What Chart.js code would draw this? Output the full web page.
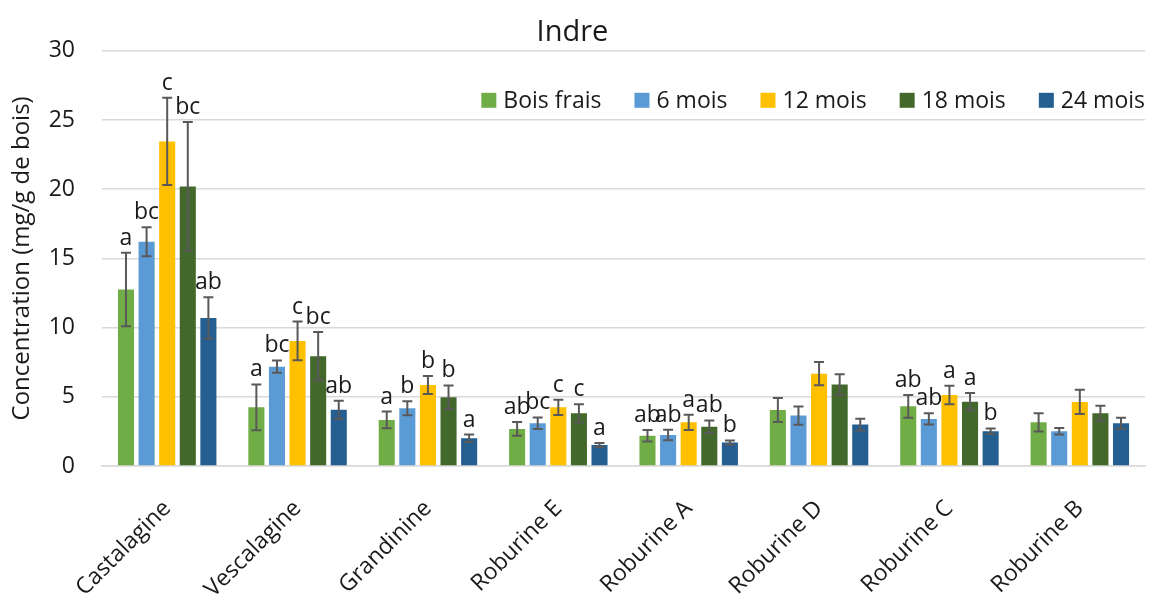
<!DOCTYPE html>
<html>
<head>
<meta charset="utf-8">
<title>Indre</title>
<script src="https://cdn.jsdelivr.net/npm/chart.js@4.4.1/dist/chart.umd.min.js"></script>
<style>
  body { margin: 0; background: #fff; }
  #wrap { width: 1153px; height: 594px; }
</style>
</head>
<body>
<div id="wrap"><canvas id="indreChart"></canvas></div>
<script>
'use strict';

// categories and series
var categories = ['Castalagine', 'Vescalagine', 'Grandinine', 'Roburine E', 'Roburine A', 'Roburine D', 'Roburine C', 'Roburine B'];
var seriesNames = ['Bois frais', '6 mois', '12 mois', '18 mois', '24 mois'];
var seriesColors = ['#70AD47', '#5B9BD5', '#FFC000', '#43682B', '#255E91'];

// mean concentrations (mg/g de bois)
var boisFrais = [12.75, 4.24, 3.33, 2.68, 2.19, 4.05, 4.31, 3.16];
var mois6     = [16.2, 7.18, 4.17, 3.09, 2.24, 3.64, 3.40, 2.51];
var mois12    = [23.45, 9.04, 5.86, 4.24, 3.16, 6.67, 5.13, 4.63];
var mois18    = [20.2, 7.93, 4.97, 3.81, 2.84, 5.88, 4.65, 3.81];
var mois24    = [10.7, 4.07, 2.0, 1.52, 1.69, 2.99, 2.51, 3.09];

// error bar half-widths
var errBoisFrais = [2.65, 1.65, 0.6, 0.5, 0.42, 0.87, 0.82, 0.66];
var errMois6     = [1.05, 0.45, 0.5, 0.42, 0.38, 0.66, 0.41, 0.23];
var errMois12    = [3.15, 1.4, 0.65, 0.55, 0.55, 0.84, 0.66, 0.88];
var errMois18    = [4.65, 1.75, 0.85, 0.66, 0.45, 0.75, 0.62, 0.54];
var errMois24    = [1.5, 0.65, 0.27, 0.15, 0.16, 0.42, 0.2, 0.4];

// significance letters
var lettersBoisFrais = ['a', 'a', 'a', 'ab', 'ab', '', 'ab', ''];
var lettersMois6     = ['bc', 'bc', 'b', 'bc', 'ab', '', 'ab', ''];
var lettersMois12    = ['c', 'c', 'b', 'c', 'a', '', 'a', ''];
var lettersMois18    = ['bc', 'bc', 'b', 'c', 'ab', '', 'a', ''];
var lettersMois24    = ['ab', 'ab', 'a', 'a', 'b', '', 'b', ''];

var yTicks = [0, 5, 10, 15, 20, 25, 30];

var values = [boisFrais, mois6, mois12, mois18, mois24];
var errors = [errBoisFrais, errMois6, errMois12, errMois18, errMois24];
var letters = [lettersBoisFrais, lettersMois6, lettersMois12, lettersMois18, lettersMois24];

var FONT = '"Open Sans", sans-serif';
var TEXT = '#1a1a1a';

Chart.defaults.font.family = FONT;
Chart.defaults.color = TEXT;

// error bars, letters, and an Excel-like legend sitting inside the plot
var errorBarsPlugin = {
  id: 'errorBars',
  afterDatasetsDraw: function (chart) {
    var ctx = chart.ctx;
    var y = chart.scales.y;
    ctx.save();
    chart.data.datasets.forEach(function (ds, i) {
      var meta = chart.getDatasetMeta(i);
      meta.data.forEach(function (bar, j) {
        var v = ds.data[j], e = ds.errors[j];
        var top = y.getPixelForValue(v + e);
        var bot = y.getPixelForValue(v - e);
        ctx.strokeStyle = '#595959';
        ctx.lineWidth = 2;
        ctx.beginPath();
        ctx.moveTo(bar.x, top); ctx.lineTo(bar.x, bot);
        ctx.moveTo(bar.x - 5, top); ctx.lineTo(bar.x + 5, top);
        ctx.moveTo(bar.x - 5, bot); ctx.lineTo(bar.x + 5, bot);
        ctx.stroke();
        if (ds.letters[j]) {
          ctx.fillStyle = TEXT;
          ctx.font = '23px ' + FONT;
          ctx.textAlign = 'center';
          ctx.textBaseline = 'alphabetic';
          ctx.fillText(ds.letters[j], bar.x, top - 8);
        }
      });
    });

    // legend
    var area = chart.chartArea;
    var box = 15, gap = 7, pad = 33;
    ctx.font = '23px ' + FONT;
    var widths = chart.data.datasets.map(function (ds) { return ctx.measureText(ds.label).width; });
    var total = widths.reduce(function (a, w) { return a + box + gap + w; }, 0) + pad * (widths.length - 1);
    var x = area.right - total;
    var cy = area.top + 49.5;
    ctx.textAlign = 'left';
    ctx.textBaseline = 'middle';
    chart.data.datasets.forEach(function (ds, i) {
      ctx.fillStyle = ds.backgroundColor;
      ctx.fillRect(x, cy - box / 2, box, box);
      ctx.fillStyle = TEXT;
      ctx.fillText(ds.label, x + box + gap, cy + 1);
      x += box + gap + widths[i] + pad;
    });
    ctx.restore();
  }
};

var datasets = seriesNames.map(function (name, i) {
  return {
    label: name,
    data: values[i],
    errors: errors[i],
    letters: letters[i],
    backgroundColor: seriesColors[i],
    borderWidth: 0,
    barPercentage: 0.78,
    categoryPercentage: 0.79
  };
});

new Chart(document.getElementById('indreChart').getContext('2d'), {
  type: 'bar',
  data: { labels: categories, datasets: datasets },
  options: {
    responsive: true,
    maintainAspectRatio: false,
    animation: false,
    layout: { padding: { left: 0, right: 8, top: 0, bottom: 0 } },
    plugins: {
      title: {
        display: true,
        text: 'Indre',
        color: TEXT,
        font: { size: 29, weight: 'normal' },
        padding: { top: 15, bottom: 1 }
      },
      legend: { display: false },
      tooltip: { enabled: false }
    },
    scales: {
      x: {
        grid: { display: false },
        border: { color: '#d9d9d9', width: 1.5 },
        ticks: { minRotation: 45, maxRotation: 45, padding: 21, color: TEXT, font: { size: 23 } },
        afterFit: function (s) { s.height = 128; }
      },
      y: {
        min: 0,
        max: 30,
        border: { display: false },
        grid: { color: '#d9d9d9', lineWidth: 1.5, drawTicks: false },
        afterBuildTicks: function (s) { s.ticks = yTicks.map(function (v) { return { value: v }; }); },
        ticks: { padding: 27, color: TEXT, font: { size: 23 } },
        title: {
          display: true,
          text: 'Concentration (mg/g de bois)',
          color: TEXT,
          font: { size: 24 },
          padding: { top: 8, bottom: 0 }
        },
        afterFit: function (s) { s.width = 102; }
      }
    }
  },
  plugins: [errorBarsPlugin]
});
</script>
</body>
</html>
